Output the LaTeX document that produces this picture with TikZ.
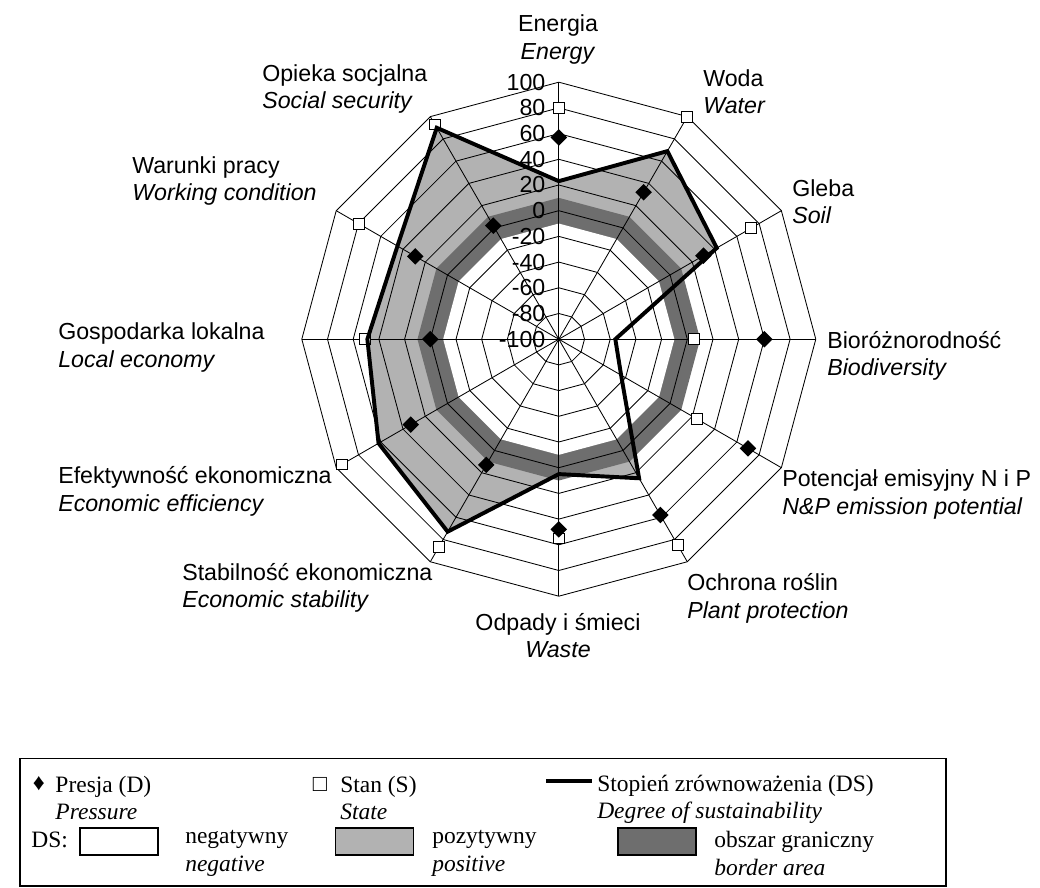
\documentclass[tikz,border=0pt]{standalone}
\usepackage{fontspec}
\setmainfont{Liberation Serif}
\newfontfamily\arial{Liberation Sans}
\usetikzlibrary{shapes.geometric}
\definecolor{positive}{rgb}{0.70,0.70,0.70}
\definecolor{borderarea}{rgb}{0.43,0.43,0.43}
\tikzstyle{pressuremark}=[diamond, fill=black, inner sep=0pt, minimum size=0.42cm]
\tikzstyle{statemark}=[rectangle, draw, fill=white, line width=0.6pt, inner sep=0pt, minimum size=0.27cm]
\tikzstyle{gridline}=[line width=0.6pt]
\tikzstyle{axislabel}=[font=\arial\fontsize{16.5}{19.6}\selectfont, inner sep=0pt, align=left, anchor=west]
\tikzstyle{ticklabel}=[font=\arial\fontsize{16.5}{19.6}\selectfont, inner sep=0pt, anchor=east]
\tikzstyle{legendtext}=[font=\fontsize{16.7}{19.6}\selectfont, inner sep=0pt, align=left, anchor=west]
\tikzstyle{legendbox}=[rectangle, draw, line width=1pt, minimum width=1.95cm, minimum height=0.675cm]
\newcommand{\axislabel}[4][]{
	\node[axislabel,#1] (#2) at (#3) {#4};}
\newcommand{\legenditem}[3]{
	\node[legendtext] (#1) at (#2) {#3};}

\begin{document}
\begin{tikzpicture}
\useasboundingbox (0,0) rectangle (26,22.2);
% radar chart, centre of the rings
\begin{scope}[shift={(13.97,13.72)}]
\foreach \v [count=\i from 0] in {23,69,42,-56,-44,25,5,73,62,49,45,90}
	\coordinate (ds\i) at ({90-30*\i}:{(\v+100)*0.032125});
\fill[positive] (ds0) \foreach \i in {1,...,11}{ -- (ds\i)} -- cycle;
\fill[borderarea] (90:3.53375) \foreach \i in {1,...,11}{ -- ({90-30*\i}:3.53375)} -- cycle;
\fill[white] (90:2.89125) \foreach \i in {1,...,11}{ -- ({90-30*\i}:2.89125)} -- cycle;
\foreach \k in {1,...,10}
	\draw[gridline] (90:{\k*0.6425}) \foreach \i in {1,...,11}{ -- ({90-30*\i}:{\k*0.6425})} -- cycle;
\foreach \i in {0,...,11}
	\draw[gridline] (0,0) -- ({90-30*\i}:6.425);
\foreach \k in {0,...,10}{
	\pgfmathtruncatemacro\val{-100+20*\k}
	\node[ticklabel] (tick\k) at (-0.33,{\k*0.6425}) {\val};}
\foreach \v [count=\i from 0] in {80,100,73,5,24,85,55,87,95,51,80,93}
	\node[statemark] (s\i) at ({90-30*\i}:{(\v+100)*0.032125}) {};
\draw[line width=2.8pt] (ds0) \foreach \i in {1,...,11}{ -- (ds\i)} -- cycle;
\foreach \v [count=\i from 0] in {57,32,30,60,70,58,48,13,33,0,29,2}
	\node[pressuremark] (d\i) at ({90-30*\i}:{(\v+100)*0.032125}) {};
\end{scope}
% axis labels
\axislabel[anchor=center, align=center]{energia}{13.95,21.21}{Energia\\\textit{Energy}}
\axislabel{woda}{17.575,19.91}{Woda\\\textit{Water}}
\axislabel{gleba}{19.8,17.16}{Gleba\\\textit{Soil}}
\axislabel{bio}{20.675,13.3}{Bioróżnorodność\\\textit{Biodiversity}}
\axislabel{emisja}{19.55,9.84}{Potencjał emisyjny N i P\\\textit{N\&P emission potential}}
\axislabel{ochrona}{17.175,7.24}{Ochrona roślin\\\textit{Plant protection}}
\axislabel[anchor=center, align=center]{odpady}{13.95,6.31}{Odpady i śmieci\\\textit{Waste}}
\axislabel{stabilnosc}{4.55,7.5}{Stabilność ekonomiczna\\\textit{Economic stability}}
\axislabel{efektywnosc}{1.45,9.91}{Efektywność ekonomiczna\\\textit{Economic efficiency}}
\axislabel{gospodarka}{1.45,13.51}{Gospodarka lokalna\\\textit{Local economy}}
\axislabel{warunki}{3.3,17.675}{Warunki pracy\\\textit{Working condition}}
\axislabel{opieka}{6.55,19.975}{Opieka socjalna\\\textit{Social security}}
% legend
\draw[line width=1pt] (0.5,0.05) rectangle (23.65,3.2425);
\node[legendtext, anchor=center] (presjamark) at (0.97,2.6) {♦};
\legenditem{presja}{1.38,2.25}{Presja (D)\\\textit{Pressure}}
\node[legendtext, anchor=center] (stanmark) at (8.0,2.58) {□};
\legenditem{stan}{8.5,2.25}{Stan (S)\\\textit{State}}
\coordinate (lineL) at (13.65,2.68);
\coordinate (lineR) at (14.8,2.68);
\draw[line width=2.8pt] (lineL) -- (lineR);
\legenditem{stopien}{14.925,2.22}{Stopień zrównoważenia (DS)\\\textit{Degree of sustainability}}
\legenditem{ds}{0.78,1.2}{DS:}
\node[legendbox, fill=white] (negbox) at (2.975,1.1625) {};
\legenditem{negatywny}{4.625,0.8625}{negatywny\\\textit{negative}}
\node[legendbox, fill=positive] (posbox) at (9.3625,1.1625) {};
\legenditem{pozytywny}{10.8,0.8625}{pozytywny\\\textit{positive}}
\node[legendbox, fill=borderarea] (borderbox) at (16.425,1.1625) {};
\legenditem{obszar}{17.85,0.8625}{obszar graniczny\\\textit{border area}}
\end{tikzpicture}
\end{document}
